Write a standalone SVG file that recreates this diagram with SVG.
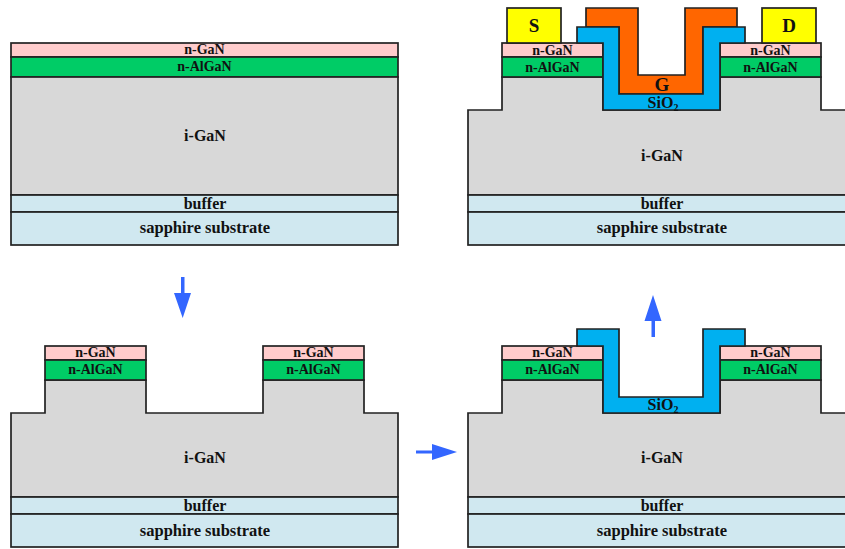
<svg xmlns="http://www.w3.org/2000/svg" width="845" height="549" viewBox="0 0 845 549">
<style>
.l{stroke:#222;stroke-width:1.7;stroke-linejoin:miter}
.pink{fill:#ffcccc}.green{fill:#00cc66}.gray{fill:#d8d8d8}.pale{fill:#d0e8f0}.ox{fill:#00b0f0}.gate{fill:#ff6600}.yel{fill:#ffff00}
text{font-family:"Liberation Serif","Times New Roman",serif;font-weight:bold;fill:#111;text-anchor:middle}
.s{font-size:14px}.m{font-size:16px}.w{font-size:16.500px}.b{font-size:19px}
.ar{fill:#3366ff}
</style>
<rect width="845" height="549" fill="#fff"/>

<g id="panel-a">
<rect class="l pink" x="11" y="43" width="387" height="14"/>
<rect class="l green" x="11" y="57" width="387" height="20"/>
<rect class="l gray" x="11" y="77" width="387" height="118"/>
<rect class="l pale" x="11" y="195" width="387" height="17"/>
<rect class="l pale" x="11" y="212" width="387" height="33"/>
<text class="s" x="204.500" y="54">n-GaN</text>
<text class="s" x="204.500" y="71">n-AlGaN</text>
<text class="m" x="205" y="141">i-GaN</text>
<text class="m" x="205" y="209">buffer</text>
<text class="w" x="205" y="233">sapphire substrate</text>
</g>

<g id="panel-b">
<path class="l gray" d="M468 195V110H502V77H603V110H720V77H821V110H855V195Z"/>
<rect class="l pink" x="502" y="43" width="101" height="14"/>
<rect class="l green" x="502" y="57" width="101" height="20"/>
<rect class="l pink" x="720" y="43" width="101" height="14"/>
<rect class="l green" x="720" y="57" width="101" height="20"/>
<rect class="l yel" x="507" y="8" width="54" height="35"/>
<rect class="l yel" x="762" y="8" width="54" height="35"/>
<path class="l gate" d="M586 8H638V75H685V8H737V27H703V94H619V27H586Z"/>
<path class="l ox" d="M577 27H619V94H703V27H745V43H720V110H603V43H577Z"/>
<rect class="l pale" x="468" y="195" width="387" height="17"/>
<rect class="l pale" x="468" y="212" width="387" height="33"/>
<text class="s" x="552.500" y="55">n-GaN</text>
<text class="s" x="552.500" y="72">n-AlGaN</text>
<text class="s" x="770.500" y="55">n-GaN</text>
<text class="s" x="770.500" y="72">n-AlGaN</text>
<text class="b" x="534" y="32">S</text>
<text class="b" x="789" y="32">D</text>
<text class="b" x="662" y="91">G</text>
<text class="m" x="663" y="108">SiO<tspan font-size="10" dy="3">2</tspan></text>
<text class="m" x="662" y="161">i-GaN</text>
<text class="m" x="662" y="209">buffer</text>
<text class="w" x="662" y="233">sapphire substrate</text>
</g>

<g id="panel-c">
<path class="l gray" d="M11 497V413H45V380H146V413H263V380H364V413H398V497Z"/>
<rect class="l pink" x="45" y="346" width="101" height="14"/>
<rect class="l green" x="45" y="360" width="101" height="20"/>
<rect class="l pink" x="263" y="346" width="101" height="14"/>
<rect class="l green" x="263" y="360" width="101" height="20"/>
<rect class="l pale" x="11" y="497" width="387" height="17"/>
<rect class="l pale" x="11" y="514" width="387" height="33"/>
<text class="s" x="95.500" y="357">n-GaN</text>
<text class="s" x="95.500" y="374">n-AlGaN</text>
<text class="s" x="313.500" y="357">n-GaN</text>
<text class="s" x="313.500" y="374">n-AlGaN</text>
<text class="m" x="205" y="463">i-GaN</text>
<text class="m" x="205" y="511">buffer</text>
<text class="w" x="205" y="536">sapphire substrate</text>
</g>

<g id="panel-d">
<path class="l gray" d="M468 497V413H502V380H603V413H720V380H821V413H855V497Z"/>
<rect class="l pink" x="502" y="346" width="101" height="14"/>
<rect class="l green" x="502" y="360" width="101" height="20"/>
<rect class="l pink" x="720" y="346" width="101" height="14"/>
<rect class="l green" x="720" y="360" width="101" height="20"/>
<path class="l ox" d="M577 329H619V397H703V329H745V346H720V413H603V346H577Z"/>
<rect class="l pale" x="468" y="497" width="387" height="17"/>
<rect class="l pale" x="468" y="514" width="387" height="33"/>
<text class="s" x="552.500" y="357">n-GaN</text>
<text class="s" x="552.500" y="374">n-AlGaN</text>
<text class="s" x="770.500" y="357">n-GaN</text>
<text class="s" x="770.500" y="374">n-AlGaN</text>
<text class="m" x="663" y="410">SiO<tspan font-size="10" dy="3">2</tspan></text>
<text class="m" x="662" y="463">i-GaN</text>
<text class="m" x="662" y="511">buffer</text>
<text class="w" x="662" y="536">sapphire substrate</text>
</g>

<g id="connectors">
<path class="ar" d="M181 277H184.500V293H191L182.700 318L174 293H181Z"/>
<path class="ar" d="M416 450.500H432V444L457 452L432 460V453.500H416Z"/>
<path class="ar" d="M651.500 337V321H644.500L653 295L661.500 321H655V337Z"/>
</g>
</svg>
